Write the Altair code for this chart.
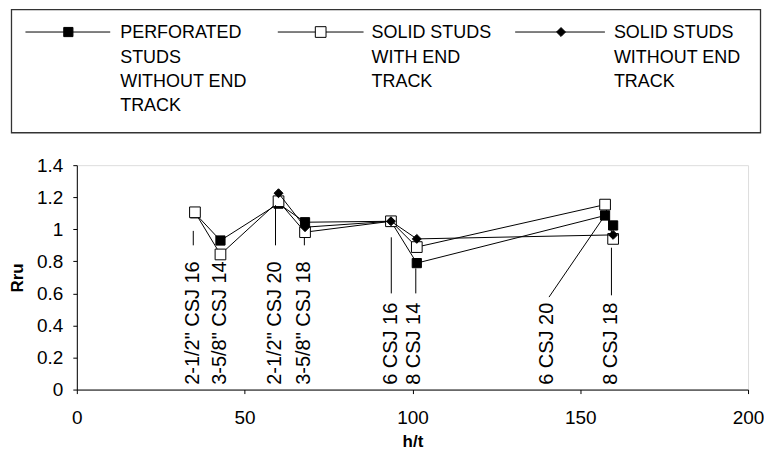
import altair as alt
import pandas as pd

# ---------------- data ----------------
HT = [35.2, 42.8, 60.1, 68.0, 93.6, 101.3, 157.4, 159.8]
PERFORATED = [1.10, 0.93, 1.16, 1.044, 1.05, 0.789, 1.086, 1.024]
SOLID_END = [1.106, 0.843, 1.175, 0.982, 1.05, 0.889, 1.154, 0.94]
SOLID_NO_END = [None, None, 1.225, 1.013, 1.05, 0.94, None, 0.965]

SERIES_NAMES = [
    "PERFORATED\nSTUDS\nWITHOUT END\nTRACK",
    "SOLID STUDS\nWITH END\nTRACK",
    "SOLID STUDS\nWITHOUT END\nTRACK",
]

CALLOUT_TEXT = ['2-1/2"  CSJ 16', '3-5/8"  CSJ 14', '2-1/2"  CSJ 20', '3-5/8"  CSJ 18',
                '6 CSJ 16', '8 CSJ 14', '6 CSJ 20', '8 CSJ 18']
CALLOUT_HT = [34.7, 42.6, 59.2, 67.8, 93.7, 100.6, 140.2, 159.3]
CALLOUT_BASE = [0.03, 0.03, 0.03, 0.03, 0.03, 0.03, 0.03, 0.03]

LEADER_HT1 = [34.7, 59.2, 67.8, 93.7, 101.0, 140.7, 159.3]
LEADER_R1 = [0.90, 0.90, 0.90, 0.60, 0.60, 0.577, 0.588]
LEADER_HT2 = [34.7, 59.2, 67.8, 93.7, 101.0, 156.8, 159.3]
LEADER_R2 = [0.99, 1.15, 0.95, 0.95, 0.756, 1.07, 0.885]

X_TICKS = [0, 50, 100, 150, 200]
Y_TICKS = [0, 0.2, 0.4, 0.6, 0.8, 1, 1.2, 1.4]

# ---------------- legend layout (pixels, relative to plot origin) ----------------
LEG_BOX = dict(x=-65.5, x2=685.5, y=-156.0, y2=-32.5)
LEG_LINE_X1 = [-51.5, 201.5, 439.5]
LEG_LINE_X2 = [33.5, 287.5, 529.5]
LEG_MARK_X = [-8.5, 244.5, 485.5]
LEG_TEXT_X = [43.5, 295.5, 538.5]
LEG_ROW_Y = -133.5
LEG_TEXT_Y = -127.3

FONT = "Liberation Sans"

# ---------------- main plot ----------------
x_axis = alt.Axis(values=X_TICKS, grid=False, domainColor="black", tickColor="black",
                  tickSize=4, labelFontSize=19, labelPadding=15, labelColor="black",
                  labelFont=FONT, titleFont=FONT, titleFontSize=17, titleFontWeight="bold",
                  titleColor="black", titlePadding=6, labelFlush=False)
y_axis = alt.Axis(values=Y_TICKS, grid=False, domainColor="black", tickColor="black",
                  tickSize=4, labelFontSize=19, labelPadding=10, labelColor="black",
                  format="~g", labelFont=FONT, titleFont=FONT, titleFontSize=17,
                  titleFontWeight="bold", titleColor="black", titlePadding=10.5)

xs = alt.Scale(domain=[0, 200], nice=False, zero=False)
ys = alt.Scale(domain=[0, 1.4], nice=False, zero=False)


def X(field):
    return alt.X(f"{field}:Q", scale=xs, axis=x_axis, title="h/t")


def Y(field):
    return alt.Y(f"{field}:Q", scale=ys, axis=y_axis, title="Rru")


def series_df(vals):
    rows = [{"ht": h, "r": v} for h, v in zip(HT, vals) if v is not None]
    return pd.DataFrame(rows)


layers = []
styles = [
    dict(shape="square", filled=True, fill="black", stroke="black", size=85, strokeWidth=1),
    dict(shape="square", filled=True, fill="white", stroke="black", size=115, strokeWidth=1),
    dict(shape="diamond", filled=True, fill="black", stroke="black", size=80, strokeWidth=1),
]
for vals, st in zip([PERFORATED, SOLID_END, SOLID_NO_END], styles):
    df = series_df(vals)
    layers.append(alt.Chart(df).mark_line(color="black", strokeWidth=1)
                  .encode(x=X("ht"), y=Y("r"), order="ht:Q"))
    layers.append(alt.Chart(df).mark_point(opacity=1, **st)
                  .encode(x=X("ht"), y=Y("r")))

lead_df = pd.DataFrame({"ht": LEADER_HT1, "r": LEADER_R1, "ht2": LEADER_HT2, "r2": LEADER_R2})
layers.append(alt.Chart(lead_df).mark_rule(color="black", strokeWidth=1)
              .encode(x=X("ht"), y=Y("r"), x2="ht2:Q", y2="r2:Q"))

call_df = pd.DataFrame({"ht": CALLOUT_HT, "r": CALLOUT_BASE, "label": CALLOUT_TEXT})
layers.append(alt.Chart(call_df).mark_text(angle=270, align="left", baseline="middle",
                                           fontSize=20, font=FONT, color="black")
              .encode(x=X("ht"), y=Y("r"), text="label:N"))

main = alt.layer(*layers)

# ---------------- legend ----------------
px = lambda f: alt.X(f"{f}:Q", scale=None, axis=None)
py = lambda f: alt.Y(f"{f}:Q", scale=None, axis=None)

box_df = pd.DataFrame([LEG_BOX])
leg_layers = [
    alt.Chart(box_df).mark_rect(fillOpacity=0, stroke="#333333", strokeWidth=1.3)
    .encode(x=px("x"), x2="x2:Q", y=py("y"), y2="y2:Q")
]
line_df = pd.DataFrame({"x": LEG_LINE_X1, "x2": LEG_LINE_X2, "y": [LEG_ROW_Y] * 3})
leg_layers.append(alt.Chart(line_df).mark_rule(color="black", strokeWidth=1)
                  .encode(x=px("x"), x2="x2:Q", y=py("y")))
for i, st in enumerate(styles):
    mdf = pd.DataFrame({"x": [LEG_MARK_X[i]], "y": [LEG_ROW_Y]})
    leg_layers.append(alt.Chart(mdf).mark_point(opacity=1, **st)
                      .encode(x=px("x"), y=py("y")))
text_df = pd.DataFrame({"x": LEG_TEXT_X, "y": [LEG_TEXT_Y] * 3, "label": SERIES_NAMES})
leg_layers.append(alt.Chart(text_df).mark_text(align="left", baseline="alphabetic", lineBreak="\n",
                                               lineHeight=24.4, fontSize=18, font=FONT,
                                               color="black")
                  .encode(x=px("x"), y=py("y"), text="label:N"))
legend = alt.layer(*leg_layers)

chart = (alt.layer(main, legend)
         .resolve_scale(x="independent", y="independent")
         .properties(width=673, height=225, padding=0, background="white")
         .configure_view(strokeOpacity=0)
         .configure(font=FONT))

chart.save("out.html", embed_options={"renderer": "svg", "actions": False})
